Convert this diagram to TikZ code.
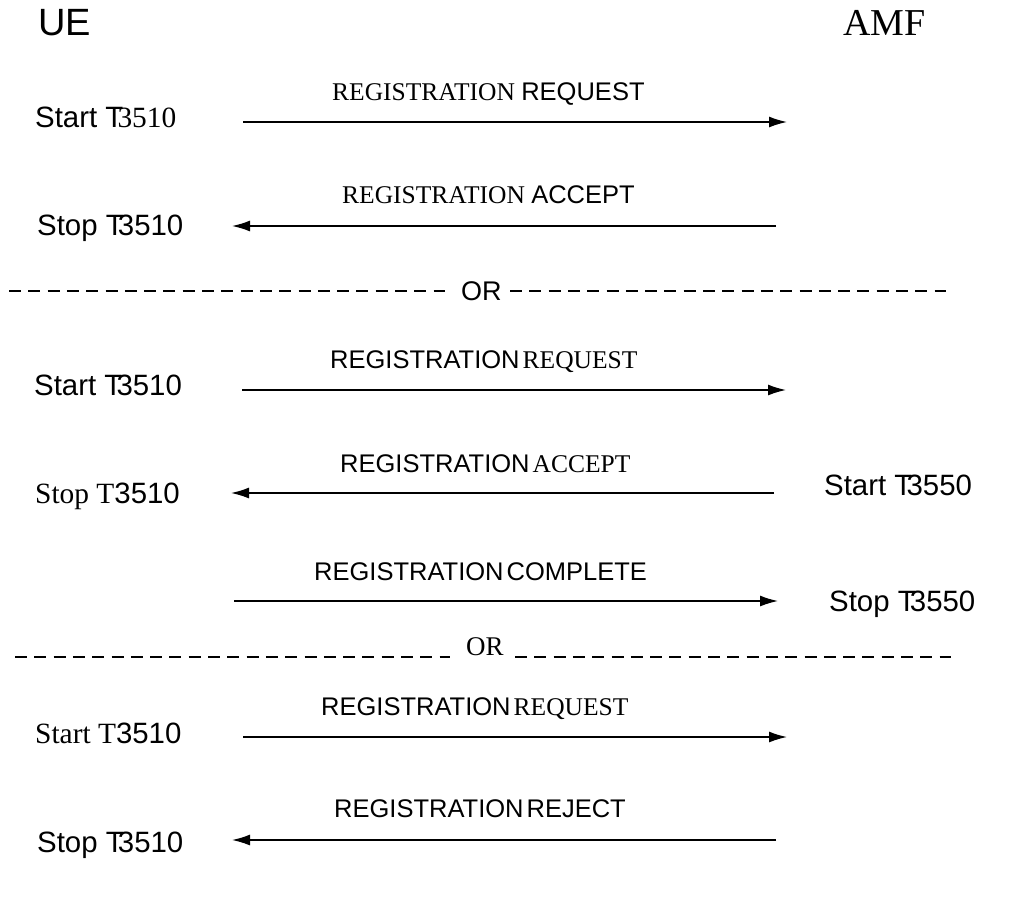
\documentclass[tikz,border=0pt]{standalone}
\usepackage{fontspec}
\setmainfont{Liberation Serif}
\newfontfamily\ssf{Liberation Sans}
\newfontfamily\sser{Liberation Serif}
\usetikzlibrary{arrows.meta}
\newcommand{\Tk}{\kern-0.2em}
\begin{document}
\begin{tikzpicture}[x=1pt,y=-1pt,
  every node/.style={inner sep=0pt, anchor=base west},
  head/.style={font=\fontsize{38}{40}\selectfont},
  txt/.style={font=\fontsize{29.4}{31}\selectfont},
  lbl/.style={font=\fontsize{25.5}{27}\selectfont},
  ortxt/.style={font=\fontsize{27}{28}\selectfont},
  msg/.style={line width=1.4pt, -{Latex[length=18pt,width=11pt]}},
  sepline/.style={line width=1.4pt, dash pattern=on 12pt off 7.3pt},
]
\useasboundingbox (0,0) rectangle (1016,902);

% headers
\node[head] (ue) at (38,35) {\ssf UE};
\node[head] (amf) at (843,35) {\sser AMF};

% block 1
\node[txt] (t1) at (35,127) {\ssf Start T\Tk\sser 3510};
\coordinate (a1s) at (243,122); \coordinate (a1e) at (787,122);
\draw[msg] (a1s) -- (a1e);
\node[lbl] (l1) at (332,100) {\sser REGISTRATION \ssf REQUEST};

\node[txt] (t2) at (37,235) {\ssf Stop T\Tk 3510};
\coordinate (a2s) at (776,226); \coordinate (a2e) at (232,226);
\draw[msg] (a2s) -- (a2e);
\node[lbl] (l2) at (342,203) {\sser REGISTRATION \ssf ACCEPT};

% separator 1
\node[ortxt] (or1) at (461,300) {\ssf OR};
\coordinate (d1a) at (9,291); \coordinate (d1b) at (445,291);
\coordinate (d1c) at (510,291); \coordinate (d1d) at (946,291);
\draw[sepline] (d1a) -- (d1b);
\draw[sepline] (d1c) -- (d1d);

% block 2
\node[txt] (t3) at (34,395) {\ssf Start T\Tk 3510};
\coordinate (a3s) at (242,390); \coordinate (a3e) at (786,390);
\draw[msg] (a3s) -- (a3e);
\node[lbl] (l3) at (330,368) {\ssf REGISTRATION\hspace{-4pt} \sser REQUEST};

\node[txt] (t4) at (35,503) {\sser Stop T\ssf 3510};
\coordinate (a4s) at (774,493); \coordinate (a4e) at (231,493);
\draw[msg] (a4s) -- (a4e);
\node[lbl] (l4) at (340,472) {\ssf REGISTRATION\hspace{-4pt} \sser ACCEPT};
\node[txt] (t5) at (824,495) {\ssf Start T\Tk 3550};

\coordinate (a5s) at (234,601); \coordinate (a5e) at (778,601);
\draw[msg] (a5s) -- (a5e);
\node[lbl] (l5) at (314,580) {\ssf REGISTRATION\hspace{-4pt} COMPLETE};
\node[txt] (t6) at (829,611) {\ssf Stop T\Tk 3550};

% separator 2
\node[ortxt] (or2) at (466,655) {\sser OR};
\coordinate (d2a) at (15,657); \coordinate (d2b) at (450,657);
\coordinate (d2c) at (515,657); \coordinate (d2d) at (951,657);
\draw[sepline] (d2a) -- (d2b);
\draw[sepline] (d2c) -- (d2d);

% block 3
\node[txt] (t7) at (35,743) {\sser Start T\ssf 3510};
\coordinate (a6s) at (243,737); \coordinate (a6e) at (787,737);
\draw[msg] (a6s) -- (a6e);
\node[lbl] (l6) at (321,715) {\ssf REGISTRATION\hspace{-4pt} \sser REQUEST};

\node[txt] (t8) at (37,852) {\ssf Stop T\Tk 3510};
\coordinate (a7s) at (776,840); \coordinate (a7e) at (232,840);
\draw[msg] (a7s) -- (a7e);
\node[lbl] (l7) at (334,817) {\ssf REGISTRATION\hspace{-4pt} REJECT};
\end{tikzpicture}
\end{document}
